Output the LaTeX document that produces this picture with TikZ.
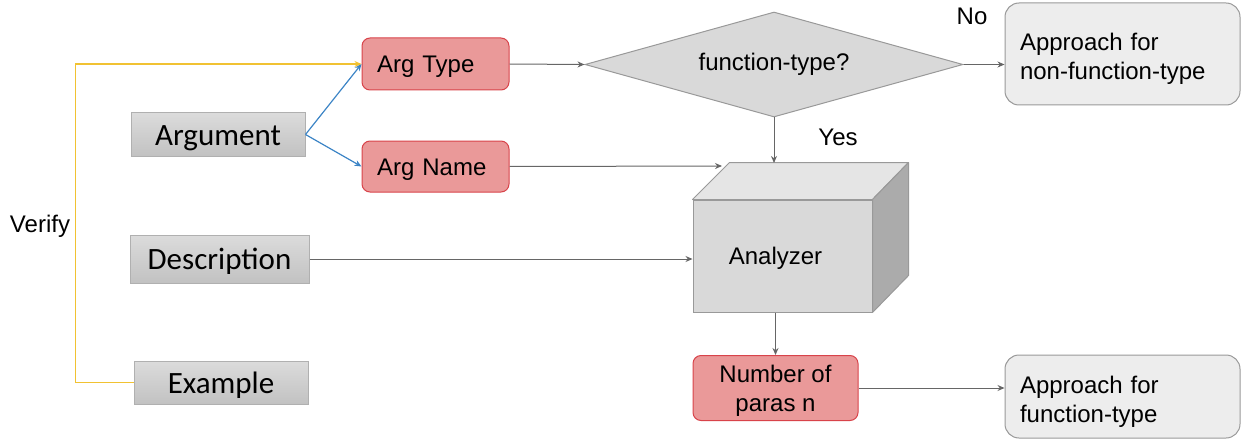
\documentclass[tikz,border=0pt]{standalone}
\usepackage{fontspec}
\setmainfont{Liberation Sans}
\newfontfamily\calib{Carlito}
\usetikzlibrary{shapes.geometric,arrows.meta,calc}
\definecolor{fieldline}{HTML}{B0B0B0}
\definecolor{redfill}{HTML}{EA9999}
\definecolor{redline}{HTML}{D8434A}
\definecolor{greyline}{HTML}{999999}
\definecolor{arrowgrey}{HTML}{666666}
\definecolor{verifyline}{HTML}{F1C232}
\definecolor{bluelink}{HTML}{3D85C6}
\begin{document}
\begin{tikzpicture}[x=1pt,y=-1pt,
  field/.style={draw=fieldline, line width=1pt, top color=black!14, bottom color=black!24,
    font=\calib\fontsize{31}{36}\selectfont, inner sep=0pt, text height=21pt, text depth=0pt},
  redbox/.style={draw=redline, fill=redfill, line width=1pt, rounded corners=8pt,
    font=\fontsize{24}{29}\selectfont, align=center, inner sep=0pt},
  redlabel/.style={redbox, align=left, text width=117pt, inner xsep=15pt,
    text height=17pt, text depth=0pt},
  approach/.style={draw=greyline, fill=black!7, line width=1pt, rounded corners=14pt,
    font=\fontsize{24}{29}\selectfont, align=left, inner xsep=15pt, text width=205pt,
    text height=17pt, text depth=24pt},
  plain/.style={font=\fontsize{24}{29}\selectfont},
  link/.style={draw=arrowgrey, line width=1pt, -{Stealth[length=7pt,width=6pt]}},
  bluearrow/.style={draw=bluelink, line width=1.2pt, -{Stealth[length=7pt,width=6pt]}},
  verify/.style={draw=verifyline, line width=1.2pt, -{Stealth[length=7pt,width=6pt]}}]
\useasboundingbox (0,0) rectangle (1241,441);

% input fields
\node[field, minimum width=174pt, minimum height=43pt] (arg)  at (218,134.5) {Argument};
\node[field, minimum width=179pt, minimum height=48pt] (desc) at (219.5,259) {Description};
\node[field, minimum width=174pt, minimum height=43pt] (ex)   at (221,382.5) {Example};

% argument parts
\node[redlabel, minimum width=147pt, minimum height=52pt] (at) at (435.5,64) {Arg Type};
\node[redlabel, minimum width=147pt, minimum height=51pt] (an) at (435.5,166.5) {Arg Name};

% decision
\node[diamond, draw=greyline, fill=black!15, line width=1pt, aspect=3.6, inner sep=0pt,
  minimum width=378pt, minimum height=105pt, font=\fontsize{24}{29}\selectfont]
  (ft) at (774,64.5) {function-type?};

% analyzer cube
\node[draw=greyline, fill=black!15, line width=1pt, minimum width=179pt, minimum height=112pt,
  inner sep=0pt] (ana) at (782.5,256) {};
\filldraw[draw=greyline, fill=black!10, line width=1pt, line join=round]
  (ana.north west) -- ++(37,-37) -- ($(ana.north east)+(36,-37)$) -- (ana.north east) -- cycle;
\filldraw[draw=greyline, fill=black!33, line width=1pt, line join=round]
  (ana.north east) -- ++(36,-37) -- ($(ana.south east)+(36,-37)$) -- (ana.south east) -- cycle;
\node[plain] (analabel) at ($(ana.center)+(-7,2)$) {Analyzer};
\coordinate (cubetop) at (774,163);
\coordinate (cubeedge) at (722,166);

% results
\node[redbox, text depth=0pt, minimum width=165pt, minimum height=65pt] (num) at (775.5,388) {Number of\\paras n};
\node[approach, minimum height=102pt] (nf) at (1122.5,54) {Approach for\\non-function-type};
\node[approach, minimum height=83pt]  (fn) at (1122.5,396.5) {Approach for\\function-type};

% labels
\node[plain] (no)  at (972,16)  {No};
\node[plain] (yes) at (838,137) {Yes};
\node[plain] (ver) at (40,226)  {Verify};

% connectors
\draw[verify] (ex.west) -- ++(-58,0) |- (at.west);
\draw[bluearrow] (arg.east) -- (at.west);
\draw[bluearrow] (arg.east) -- (an.west);
\draw[link] (at.east) -- (ft.west);
\draw[link] (ft.east) -- (ft.east -| nf.west);
\draw[link] (ft.south) -- (cubetop);
\draw[link] (an.east) -- (cubeedge);
\draw[link] (desc.east) -- (desc.east -| ana.west);
\draw[link] (num.north |- ana.south) -- (num.north);
\draw[link] (num.east) -- (num.east -| fn.west);
\end{tikzpicture}
\end{document}
